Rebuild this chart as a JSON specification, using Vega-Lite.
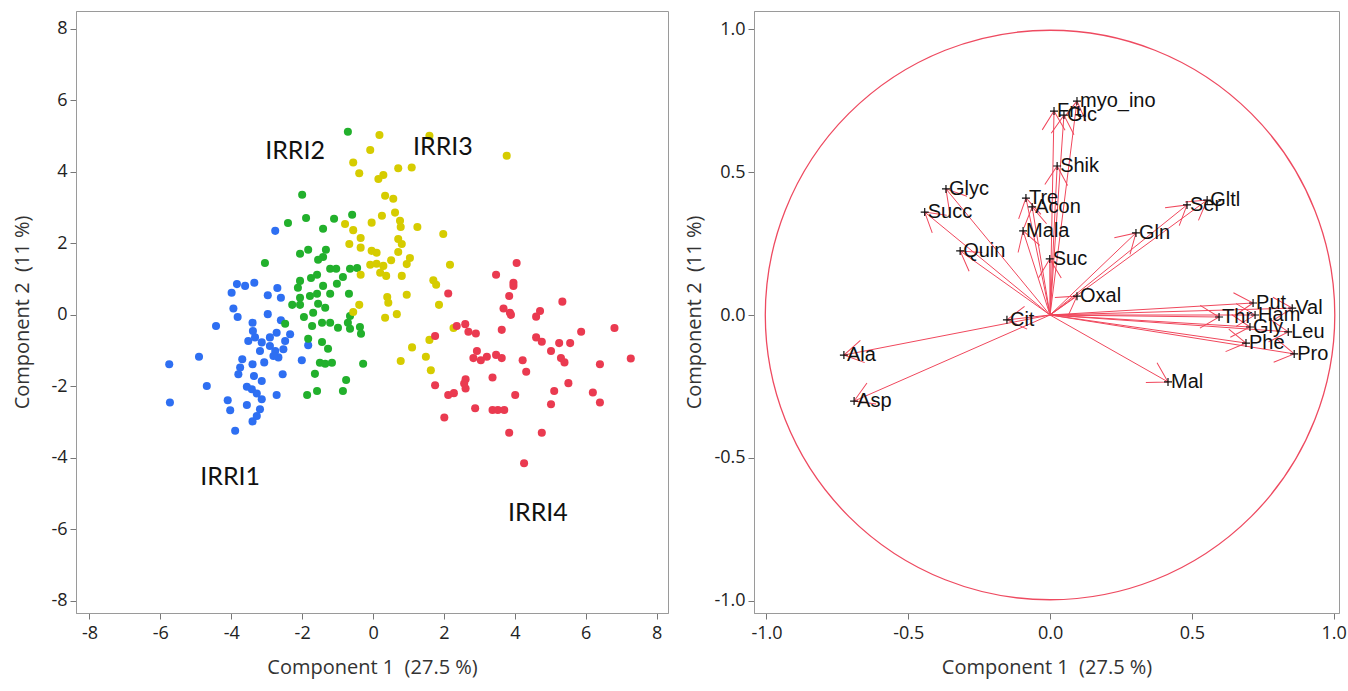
{
  "$schema": "https://vega.github.io/schema/vega-lite/v6.json",
  "background": "white",
  "padding": {"left": 12, "top": 10, "right": 5, "bottom": 5},
  "spacing": 15,
  "config": {
    "font": "Open Sans",
    "view": {"stroke": "#9a9a9a", "strokeWidth": 1},
    "axis": {"labelFont": "Open Sans", "labelFontSize": 18, "labelColor": "#222", "titleFont": "Open Sans", "titleFontSize": 20, "titleFontWeight": "normal", "titleColor": "#333", "grid": false, "tickColor": "#777", "domainColor": "#9a9a9a", "tickSize": 6, "labelPadding": 3},
    "locale": {"number": {"decimal": ".", "thousands": ",", "grouping": [3], "currency": ["$", ""], "minus": "-"}}
  },
  "datasets": {
    "scores": [
      {"g":"IRRI1","pc1":-3.84,"pc2":0.86},{"g":"IRRI1","pc1":-3.61,"pc2":0.81},{"g":"IRRI1","pc1":-3.35,"pc2":0.90},{"g":"IRRI1","pc1":-3.99,"pc2":0.62},{"g":"IRRI1","pc1":-2.70,"pc2":0.75},{"g":"IRRI1","pc1":-2.97,"pc2":0.55},{"g":"IRRI1","pc1":-2.60,"pc2":0.48},{"g":"IRRI1","pc1":-3.94,"pc2":0.18},{"g":"IRRI1","pc1":-3.82,"pc2":-0.06},{"g":"IRRI1","pc1":-4.43,"pc2":-0.31},{"g":"IRRI1","pc1":-2.97,"pc2":0.02},{"g":"IRRI1","pc1":-2.60,"pc2":-0.15},{"g":"IRRI1","pc1":-3.40,"pc2":-0.22},{"g":"IRRI1","pc1":-3.39,"pc2":-0.45},{"g":"IRRI1","pc1":-3.52,"pc2":-0.73},{"g":"IRRI1","pc1":-3.33,"pc2":-0.63},{"g":"IRRI1","pc1":-3.14,"pc2":-0.77},{"g":"IRRI1","pc1":-2.91,"pc2":-0.63},{"g":"IRRI1","pc1":-2.72,"pc2":-0.50},{"g":"IRRI1","pc1":-2.34,"pc2":-0.54},{"g":"IRRI1","pc1":-2.48,"pc2":-0.73},{"g":"IRRI1","pc1":-3.19,"pc2":-1.01},{"g":"IRRI1","pc1":-2.91,"pc2":-0.87},{"g":"IRRI1","pc1":-2.76,"pc2":-1.01},{"g":"IRRI1","pc1":-2.53,"pc2":-0.96},{"g":"IRRI1","pc1":-2.67,"pc2":-1.19},{"g":"IRRI1","pc1":-2.81,"pc2":-1.15},{"g":"IRRI1","pc1":-2.01,"pc2":-1.27},{"g":"IRRI1","pc1":-4.91,"pc2":-1.17},{"g":"IRRI1","pc1":-5.75,"pc2":-1.38},{"g":"IRRI1","pc1":-3.69,"pc2":-1.24},{"g":"IRRI1","pc1":-3.40,"pc2":-1.38},{"g":"IRRI1","pc1":-3.07,"pc2":-1.33},{"g":"IRRI1","pc1":-3.75,"pc2":-1.47},{"g":"IRRI1","pc1":-3.80,"pc2":-1.66},{"g":"IRRI1","pc1":-3.36,"pc2":-1.71},{"g":"IRRI1","pc1":-3.14,"pc2":-1.85},{"g":"IRRI1","pc1":-2.55,"pc2":-1.66},{"g":"IRRI1","pc1":-4.69,"pc2":-1.99},{"g":"IRRI1","pc1":-3.56,"pc2":-2.01},{"g":"IRRI1","pc1":-3.42,"pc2":-2.08},{"g":"IRRI1","pc1":-3.28,"pc2":-2.20},{"g":"IRRI1","pc1":-3.14,"pc2":-2.36},{"g":"IRRI1","pc1":-2.72,"pc2":-2.24},{"g":"IRRI1","pc1":-4.10,"pc2":-2.39},{"g":"IRRI1","pc1":-5.73,"pc2":-2.45},{"g":"IRRI1","pc1":-3.56,"pc2":-2.52},{"g":"IRRI1","pc1":-4.03,"pc2":-2.67},{"g":"IRRI1","pc1":-3.19,"pc2":-2.64},{"g":"IRRI1","pc1":-3.28,"pc2":-2.83},{"g":"IRRI1","pc1":-3.40,"pc2":-2.98},{"g":"IRRI1","pc1":-3.89,"pc2":-3.24},{"g":"IRRI1","pc1":-2.76,"pc2":2.35},{"g":"IRRI1","pc1":-1.83,"pc2":-0.85},
      {"g":"IRRI2","pc1":-0.71,"pc2":5.12},{"g":"IRRI2","pc1":-2.00,"pc2":3.36},{"g":"IRRI2","pc1":-1.89,"pc2":2.71},{"g":"IRRI2","pc1":-2.40,"pc2":2.57},{"g":"IRRI2","pc1":-1.10,"pc2":2.69},{"g":"IRRI2","pc1":-0.59,"pc2":2.80},{"g":"IRRI2","pc1":-1.41,"pc2":2.41},{"g":"IRRI2","pc1":-3.05,"pc2":1.45},{"g":"IRRI2","pc1":-2.06,"pc2":1.71},{"g":"IRRI2","pc1":-1.83,"pc2":1.82},{"g":"IRRI2","pc1":-1.33,"pc2":1.82},{"g":"IRRI2","pc1":-1.41,"pc2":1.62},{"g":"IRRI2","pc1":-1.55,"pc2":1.54},{"g":"IRRI2","pc1":-1.21,"pc2":1.29},{"g":"IRRI2","pc1":-1.04,"pc2":1.29},{"g":"IRRI2","pc1":-0.65,"pc2":1.29},{"g":"IRRI2","pc1":-0.45,"pc2":1.31},{"g":"IRRI2","pc1":-0.85,"pc2":1.06},{"g":"IRRI2","pc1":-1.02,"pc2":0.87},{"g":"IRRI2","pc1":-1.58,"pc2":1.12},{"g":"IRRI2","pc1":-1.75,"pc2":1.03},{"g":"IRRI2","pc1":-2.06,"pc2":0.95},{"g":"IRRI2","pc1":-2.12,"pc2":0.76},{"g":"IRRI2","pc1":-1.41,"pc2":0.81},{"g":"IRRI2","pc1":-1.21,"pc2":0.59},{"g":"IRRI2","pc1":-0.68,"pc2":0.59},{"g":"IRRI2","pc1":-1.78,"pc2":0.53},{"g":"IRRI2","pc1":-1.58,"pc2":0.59},{"g":"IRRI2","pc1":-2.06,"pc2":0.48},{"g":"IRRI2","pc1":-2.28,"pc2":0.28},{"g":"IRRI2","pc1":-2.06,"pc2":0.28},{"g":"IRRI2","pc1":-1.55,"pc2":0.31},{"g":"IRRI2","pc1":-1.35,"pc2":0.20},{"g":"IRRI2","pc1":-1.69,"pc2":0.06},{"g":"IRRI2","pc1":-1.95,"pc2":-0.06},{"g":"IRRI2","pc1":-1.44,"pc2":-0.22},{"g":"IRRI2","pc1":-1.72,"pc2":-0.31},{"g":"IRRI2","pc1":-1.21,"pc2":-0.22},{"g":"IRRI2","pc1":-0.99,"pc2":-0.36},{"g":"IRRI2","pc1":-0.71,"pc2":-0.22},{"g":"IRRI2","pc1":-2.48,"pc2":-0.25},{"g":"IRRI2","pc1":-0.65,"pc2":-0.03},{"g":"IRRI2","pc1":-0.65,"pc2":-0.39},{"g":"IRRI2","pc1":-0.37,"pc2":-0.34},{"g":"IRRI2","pc1":-0.34,"pc2":-0.53},{"g":"IRRI2","pc1":-1.83,"pc2":-0.67},{"g":"IRRI2","pc1":-1.44,"pc2":-0.76},{"g":"IRRI2","pc1":-1.27,"pc2":-0.95},{"g":"IRRI2","pc1":-1.50,"pc2":-1.34},{"g":"IRRI2","pc1":-1.16,"pc2":-1.34},{"g":"IRRI2","pc1":-0.28,"pc2":-1.37},{"g":"IRRI2","pc1":-1.64,"pc2":-1.65},{"g":"IRRI2","pc1":-0.76,"pc2":-1.82},{"g":"IRRI2","pc1":-0.85,"pc2":-2.13},{"g":"IRRI2","pc1":-1.58,"pc2":-2.13},{"g":"IRRI2","pc1":-1.86,"pc2":-2.24},{"g":"IRRI2","pc1":-1.35,"pc2":-1.37},
      {"g":"IRRI3","pc1":0.18,"pc2":5.03},{"g":"IRRI3","pc1":-0.08,"pc2":4.61},{"g":"IRRI3","pc1":1.59,"pc2":5.01},{"g":"IRRI3","pc1":3.77,"pc2":4.45},{"g":"IRRI3","pc1":-0.56,"pc2":4.26},{"g":"IRRI3","pc1":-0.39,"pc2":3.96},{"g":"IRRI3","pc1":0.71,"pc2":4.10},{"g":"IRRI3","pc1":1.09,"pc2":4.12},{"g":"IRRI3","pc1":0.15,"pc2":3.80},{"g":"IRRI3","pc1":0.29,"pc2":3.91},{"g":"IRRI3","pc1":0.34,"pc2":3.33},{"g":"IRRI3","pc1":0.57,"pc2":3.25},{"g":"IRRI3","pc1":0.25,"pc2":2.77},{"g":"IRRI3","pc1":0.62,"pc2":2.86},{"g":"IRRI3","pc1":0.76,"pc2":2.63},{"g":"IRRI3","pc1":0.78,"pc2":2.46},{"g":"IRRI3","pc1":-0.04,"pc2":2.58},{"g":"IRRI3","pc1":1.25,"pc2":2.46},{"g":"IRRI3","pc1":1.98,"pc2":2.26},{"g":"IRRI3","pc1":-0.79,"pc2":2.54},{"g":"IRRI3","pc1":-0.56,"pc2":2.37},{"g":"IRRI3","pc1":-0.35,"pc2":2.15},{"g":"IRRI3","pc1":-0.67,"pc2":1.98},{"g":"IRRI3","pc1":-0.35,"pc2":1.88},{"g":"IRRI3","pc1":0.71,"pc2":2.12},{"g":"IRRI3","pc1":0.81,"pc2":1.98},{"g":"IRRI3","pc1":-0.04,"pc2":1.79},{"g":"IRRI3","pc1":0.10,"pc2":1.74},{"g":"IRRI3","pc1":0.71,"pc2":1.76},{"g":"IRRI3","pc1":1.04,"pc2":1.59},{"g":"IRRI3","pc1":0.51,"pc2":1.53},{"g":"IRRI3","pc1":0.95,"pc2":1.42},{"g":"IRRI3","pc1":-0.08,"pc2":1.40},{"g":"IRRI3","pc1":0.10,"pc2":1.43},{"g":"IRRI3","pc1":0.29,"pc2":1.37},{"g":"IRRI3","pc1":0.20,"pc2":1.18},{"g":"IRRI3","pc1":0.37,"pc2":1.09},{"g":"IRRI3","pc1":0.81,"pc2":1.09},{"g":"IRRI3","pc1":-0.35,"pc2":1.12},{"g":"IRRI3","pc1":2.17,"pc2":1.40},{"g":"IRRI3","pc1":1.70,"pc2":0.97},{"g":"IRRI3","pc1":1.78,"pc2":0.84},{"g":"IRRI3","pc1":0.95,"pc2":0.56},{"g":"IRRI3","pc1":0.40,"pc2":0.50},{"g":"IRRI3","pc1":0.43,"pc2":0.34},{"g":"IRRI3","pc1":1.86,"pc2":0.28},{"g":"IRRI3","pc1":-0.39,"pc2":0.28},{"g":"IRRI3","pc1":0.67,"pc2":0.02},{"g":"IRRI3","pc1":0.34,"pc2":-0.08},{"g":"IRRI3","pc1":-0.56,"pc2":0.08},{"g":"IRRI3","pc1":2.27,"pc2":-0.37},{"g":"IRRI3","pc1":1.59,"pc2":-0.70},{"g":"IRRI3","pc1":1.10,"pc2":-0.91},{"g":"IRRI3","pc1":1.49,"pc2":-1.17},{"g":"IRRI3","pc1":0.78,"pc2":-1.29},{"g":"IRRI3","pc1":1.63,"pc2":-1.55},
      {"g":"IRRI4","pc1":4.05,"pc2":1.45},{"g":"IRRI4","pc1":3.47,"pc2":1.12},{"g":"IRRI4","pc1":3.96,"pc2":0.90},{"g":"IRRI4","pc1":3.96,"pc2":0.81},{"g":"IRRI4","pc1":2.12,"pc2":0.60},{"g":"IRRI4","pc1":3.84,"pc2":0.53},{"g":"IRRI4","pc1":5.34,"pc2":0.37},{"g":"IRRI4","pc1":3.68,"pc2":0.18},{"g":"IRRI4","pc1":3.86,"pc2":0.06},{"g":"IRRI4","pc1":3.89,"pc2":0.00},{"g":"IRRI4","pc1":4.71,"pc2":0.11},{"g":"IRRI4","pc1":4.60,"pc2":-0.05},{"g":"IRRI4","pc1":2.36,"pc2":-0.31},{"g":"IRRI4","pc1":2.60,"pc2":-0.26},{"g":"IRRI4","pc1":2.69,"pc2":-0.47},{"g":"IRRI4","pc1":2.90,"pc2":-0.52},{"g":"IRRI4","pc1":3.63,"pc2":-0.42},{"g":"IRRI4","pc1":5.87,"pc2":-0.47},{"g":"IRRI4","pc1":6.81,"pc2":-0.37},{"g":"IRRI4","pc1":1.75,"pc2":-0.59},{"g":"IRRI4","pc1":4.60,"pc2":-0.63},{"g":"IRRI4","pc1":4.76,"pc2":-0.75},{"g":"IRRI4","pc1":5.25,"pc2":-0.79},{"g":"IRRI4","pc1":5.56,"pc2":-0.79},{"g":"IRRI4","pc1":2.93,"pc2":-1.01},{"g":"IRRI4","pc1":2.83,"pc2":-1.21},{"g":"IRRI4","pc1":3.04,"pc2":-1.27},{"g":"IRRI4","pc1":3.21,"pc2":-1.17},{"g":"IRRI4","pc1":3.47,"pc2":-1.12},{"g":"IRRI4","pc1":3.63,"pc2":-1.21},{"g":"IRRI4","pc1":4.22,"pc2":-1.27},{"g":"IRRI4","pc1":5.02,"pc2":-1.01},{"g":"IRRI4","pc1":5.30,"pc2":-1.21},{"g":"IRRI4","pc1":5.40,"pc2":-1.33},{"g":"IRRI4","pc1":6.40,"pc2":-1.38},{"g":"IRRI4","pc1":7.27,"pc2":-1.22},{"g":"IRRI4","pc1":4.32,"pc2":-1.59},{"g":"IRRI4","pc1":3.37,"pc2":-1.75},{"g":"IRRI4","pc1":2.61,"pc2":-1.80},{"g":"IRRI4","pc1":2.57,"pc2":-1.92},{"g":"IRRI4","pc1":2.61,"pc2":-2.06},{"g":"IRRI4","pc1":1.75,"pc2":-1.97},{"g":"IRRI4","pc1":5.51,"pc2":-1.91},{"g":"IRRI4","pc1":2.12,"pc2":-2.24},{"g":"IRRI4","pc1":2.28,"pc2":-2.19},{"g":"IRRI4","pc1":4.01,"pc2":-2.24},{"g":"IRRI4","pc1":5.11,"pc2":-2.13},{"g":"IRRI4","pc1":6.20,"pc2":-2.17},{"g":"IRRI4","pc1":5.02,"pc2":-2.50},{"g":"IRRI4","pc1":6.40,"pc2":-2.45},{"g":"IRRI4","pc1":2.88,"pc2":-2.61},{"g":"IRRI4","pc1":3.37,"pc2":-2.66},{"g":"IRRI4","pc1":3.52,"pc2":-2.66},{"g":"IRRI4","pc1":3.70,"pc2":-2.66},{"g":"IRRI4","pc1":2.01,"pc2":-2.87},{"g":"IRRI4","pc1":3.84,"pc2":-3.30},{"g":"IRRI4","pc1":4.76,"pc2":-3.30},{"g":"IRRI4","pc1":4.26,"pc2":-4.15}
    ],
    "groups": [
      {"label":"IRRI1","pc1":-4.03,"pc2":-4.53},
      {"label":"IRRI2","pc1":-2.20,"pc2":4.59},
      {"label":"IRRI3","pc1":1.97,"pc2":4.70},
      {"label":"IRRI4","pc1":4.65,"pc2":-5.54}
    ],
    "origin": [{"cx": 0, "cy": 0}],
    "loadings": [
      {"name":"myo_ino","x":0.095,"y":0.748},
      {"name":"Fru","x":0.014,"y":0.713},
      {"name":"Glc","x":0.049,"y":0.699},
      {"name":"Shik","x":0.025,"y":0.521},
      {"name":"Glyc","x":-0.367,"y":0.441},
      {"name":"Succ","x":-0.442,"y":0.360},
      {"name":"Tre","x":-0.085,"y":0.409},
      {"name":"Acon","x":-0.063,"y":0.378},
      {"name":"Mala","x":-0.095,"y":0.294},
      {"name":"Quin","x":-0.317,"y":0.224},
      {"name":"Suc","x":-0.001,"y":0.196},
      {"name":"Ser","x":0.483,"y":0.385},
      {"name":"Gltl","x":0.554,"y":0.402},
      {"name":"Gln","x":0.303,"y":0.287},
      {"name":"Oxal","x":0.095,"y":0.066},
      {"name":"Cit","x":-0.152,"y":-0.017},
      {"name":"Ala","x":-0.727,"y":-0.140},
      {"name":"Asp","x":-0.691,"y":-0.301},
      {"name":"Mal","x":0.416,"y":-0.234},
      {"name":"Put","x":0.716,"y":0.042},
      {"name":"Val","x":0.854,"y":0.024},
      {"name":"Thr","x":0.596,"y":-0.007},
      {"name":"Ham","x":0.723,"y":0.000},
      {"name":"Gly","x":0.705,"y":-0.042},
      {"name":"Leu","x":0.840,"y":-0.059},
      {"name":"Phe","x":0.691,"y":-0.098},
      {"name":"Pro","x":0.861,"y":-0.136}
    ]
  },
  "hconcat": [
    {
      "width": 592,
      "height": 602,
      "layer": [
        {
          "mark": {"type": "rule", "color": "#ee4d66", "strokeWidth": 2, "strokeDash": [3, 5]},
          "encoding": {"x": {"datum": 0, "type": "quantitative"}}
        },
        {
          "mark": {"type": "rule", "color": "#ee4d66", "strokeWidth": 2, "strokeDash": [3, 5]},
          "encoding": {"y": {"datum": 0, "type": "quantitative"}}
        },
        {
          "data": {"name": "scores"},
          "mark": {"type": "point", "shape": "circle", "filled": true, "size": 65, "opacity": 1},
          "encoding": {
            "x": {"field": "pc1", "type": "quantitative", "scale": {"domain": [-8.38, 8.32], "nice": false, "zero": false}, "axis": {"values": [-8, -6, -4, -2, 0, 2, 4, 6, 8], "title": "Component 1\u00a0 (27.5 %)", "labelPadding": 5, "titlePadding": 15}},
            "y": {"field": "pc2", "type": "quantitative", "scale": {"domain": [-8.34, 8.5], "nice": false, "zero": false}, "axis": {"values": [-8, -6, -4, -2, 0, 2, 4, 6, 8], "title": "Component 2\u00a0 (11 %)", "titlePadding": 18}},
            "color": {"field": "g", "type": "nominal", "scale": {"domain": ["IRRI1", "IRRI2", "IRRI3", "IRRI4"], "range": ["#2e6ff2", "#22b02c", "#d6cc00", "#ea3a50"]}, "legend": null}
          }
        },
        {
          "data": {"name": "groups"},
          "mark": {"type": "text", "font": "Lato", "fontSize": 25, "color": "#111", "align": "center", "baseline": "middle"},
          "encoding": {
            "x": {"field": "pc1", "type": "quantitative"},
            "y": {"field": "pc2", "type": "quantitative"},
            "text": {"field": "label"}
          }
        }
      ]
    },
    {
      "width": 585,
      "height": 602,
      "layer": [
        {
          "mark": {"type": "rule", "color": "#ee4d66", "strokeWidth": 2, "strokeDash": [3, 5]},
          "encoding": {"x": {"datum": 0, "type": "quantitative"}}
        },
        {
          "mark": {"type": "rule", "color": "#ee4d66", "strokeWidth": 2, "strokeDash": [3, 5]},
          "encoding": {"y": {"datum": 0, "type": "quantitative"}}
        },
        {
          "data": {"name": "origin"},
          "mark": {"type": "point", "shape": "circle", "filled": false, "size": 324330, "stroke": "#ee4a60", "strokeWidth": 1.3, "opacity": 1},
          "encoding": {"x": {"field": "cx", "type": "quantitative"}, "y": {"field": "cy", "type": "quantitative"}}
        },
        {
          "data": {"name": "loadings"},
          "mark": {"type": "rule", "color": "#f0475c", "strokeWidth": 1},
          "encoding": {
            "x": {"field": "x", "type": "quantitative", "scale": {"domain": [-1.044, 1.019], "nice": false, "zero": false}, "axis": {"values": [-1, -0.5, 0, 0.5, 1], "format": ".1f", "title": "Component 1\u00a0 (27.5 %)", "labelPadding": 5, "titlePadding": 15}},
            "y": {"field": "y", "type": "quantitative", "scale": {"domain": [-1.042, 1.063], "nice": false, "zero": false}, "axis": {"values": [-1, -0.5, 0, 0.5, 1], "format": ".1f", "title": "Component 2\u00a0 (11 %)", "titlePadding": 9}},
            "x2": {"datum": 0},
            "y2": {"datum": 0}
          }
        },
        {
          "data": {"name": "loadings"},
          "mark": {"type": "point", "shape": "M-0.6,1L0,0L0.6,1", "filled": false, "size": 1444, "stroke": "#f0475c", "strokeWidth": 1, "opacity": 1, "angle": {"expr": "atan2(datum.x, datum.y) * 180 / PI"}},
          "encoding": {
            "x": {"field": "x", "type": "quantitative"},
            "y": {"field": "y", "type": "quantitative"}
          }
        },
        {
          "data": {"name": "loadings"},
          "mark": {"type": "text", "font": "Liberation Sans", "fontSize": 20, "color": "#111", "align": "left", "baseline": "middle", "dx": 3},
          "encoding": {
            "x": {"field": "x", "type": "quantitative"},
            "y": {"field": "y", "type": "quantitative"},
            "text": {"field": "name"}
          }
        },
        {
          "data": {"name": "loadings"},
          "mark": {"type": "point", "shape": "M-1,0L1,0M0,-1L0,1", "filled": false, "size": 64, "stroke": "#111", "strokeWidth": 1.2, "opacity": 1},
          "encoding": {
            "x": {"field": "x", "type": "quantitative"},
            "y": {"field": "y", "type": "quantitative"}
          }
        }
      ]
    }
  ]
}
